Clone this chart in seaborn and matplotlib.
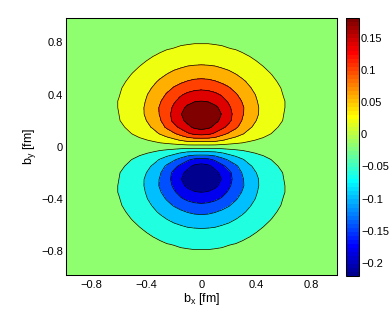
import numpy as np
import matplotlib
matplotlib.use("Agg")
import matplotlib.pyplot as plt
from matplotlib.colors import ListedColormap, Normalize
from matplotlib.cm import ScalarMappable
from matplotlib.ticker import FuncFormatter
import seaborn as sns

# sample positions of the upper-right quadrant (fm)
bx_q = np.round(np.linspace(0.0, 1.0, 21), 2)
by_q = np.round(np.linspace(0.0, 1.0, 21), 2)

# density, rows follow by_q, columns follow bx_q
# (picture is mirror symmetric in b_x and flips sign with b_y)
rho_q = np.array([
    [0.000, 0.000, 0.000, 0.000, 0.000, 0.000, 0.000, 0.000, 0.000, 0.000, 0.000, 0.000, 0.000, 0.000, 0.000, 0.000, 0.000, 0.000, 0.000, 0.000, 0.000],
    [0.077, 0.078, 0.075, 0.063, 0.051, 0.042, 0.034, 0.025, 0.019, 0.015, 0.011, 0.008, 0.006, 0.004, 0.003, 0.002, 0.001, 0.001, 0.000, 0.000, 0.000],
    [0.155, 0.150, 0.134, 0.114, 0.095, 0.079, 0.063, 0.048, 0.037, 0.028, 0.021, 0.015, 0.011, 0.008, 0.005, 0.004, 0.002, 0.001, 0.001, 0.000, 0.000],
    [0.194, 0.188, 0.170, 0.150, 0.128, 0.107, 0.084, 0.065, 0.051, 0.038, 0.028, 0.021, 0.015, 0.011, 0.008, 0.005, 0.003, 0.002, 0.001, 0.001, 0.000],
    [0.209, 0.204, 0.190, 0.171, 0.149, 0.123, 0.097, 0.077, 0.060, 0.046, 0.034, 0.025, 0.019, 0.013, 0.009, 0.006, 0.004, 0.002, 0.001, 0.001, 0.000],
    [0.214, 0.210, 0.198, 0.178, 0.153, 0.126, 0.103, 0.083, 0.065, 0.050, 0.038, 0.028, 0.020, 0.015, 0.010, 0.006, 0.004, 0.002, 0.001, 0.001, 0.000],
    [0.205, 0.201, 0.188, 0.169, 0.146, 0.124, 0.104, 0.083, 0.065, 0.051, 0.039, 0.029, 0.021, 0.015, 0.010, 0.006, 0.004, 0.002, 0.001, 0.001, 0.000],
    [0.180, 0.177, 0.167, 0.152, 0.135, 0.117, 0.097, 0.079, 0.062, 0.049, 0.038, 0.028, 0.021, 0.015, 0.009, 0.006, 0.004, 0.002, 0.001, 0.001, 0.000],
    [0.157, 0.154, 0.147, 0.136, 0.120, 0.104, 0.087, 0.071, 0.058, 0.045, 0.035, 0.026, 0.019, 0.013, 0.009, 0.005, 0.003, 0.002, 0.001, 0.001, 0.000],
    [0.133, 0.131, 0.125, 0.115, 0.103, 0.089, 0.076, 0.063, 0.051, 0.041, 0.031, 0.024, 0.017, 0.011, 0.007, 0.005, 0.003, 0.002, 0.001, 0.001, 0.000],
    [0.109, 0.107, 0.102, 0.094, 0.086, 0.076, 0.065, 0.054, 0.044, 0.035, 0.027, 0.020, 0.014, 0.009, 0.006, 0.004, 0.002, 0.001, 0.001, 0.001, 0.000],
    [0.088, 0.087, 0.083, 0.077, 0.070, 0.062, 0.053, 0.044, 0.036, 0.029, 0.022, 0.015, 0.011, 0.007, 0.005, 0.003, 0.002, 0.001, 0.001, 0.001, 0.000],
    [0.069, 0.068, 0.066, 0.061, 0.056, 0.049, 0.042, 0.036, 0.029, 0.022, 0.016, 0.012, 0.008, 0.006, 0.004, 0.002, 0.001, 0.001, 0.001, 0.001, 0.000],
    [0.053, 0.052, 0.050, 0.047, 0.043, 0.038, 0.033, 0.027, 0.021, 0.016, 0.012, 0.008, 0.006, 0.004, 0.003, 0.002, 0.001, 0.001, 0.001, 0.000, 0.000],
    [0.040, 0.040, 0.038, 0.035, 0.032, 0.028, 0.023, 0.019, 0.015, 0.011, 0.008, 0.006, 0.004, 0.003, 0.002, 0.001, 0.001, 0.001, 0.001, 0.000, 0.000],
    [0.028, 0.028, 0.026, 0.024, 0.021, 0.019, 0.016, 0.013, 0.010, 0.008, 0.006, 0.004, 0.003, 0.002, 0.001, 0.001, 0.001, 0.001, 0.001, 0.000, 0.000],
    [0.018, 0.018, 0.017, 0.016, 0.014, 0.012, 0.010, 0.008, 0.007, 0.005, 0.004, 0.003, 0.002, 0.001, 0.001, 0.001, 0.001, 0.001, 0.000, 0.000, 0.000],
    [0.011, 0.011, 0.011, 0.010, 0.009, 0.008, 0.007, 0.005, 0.004, 0.003, 0.002, 0.002, 0.001, 0.001, 0.001, 0.001, 0.001, 0.000, 0.000, 0.000, 0.000],
    [0.007, 0.007, 0.007, 0.006, 0.006, 0.005, 0.004, 0.003, 0.002, 0.002, 0.002, 0.001, 0.001, 0.001, 0.001, 0.001, 0.000, 0.000, 0.000, 0.000, 0.000],
    [0.004, 0.004, 0.004, 0.004, 0.003, 0.003, 0.002, 0.002, 0.002, 0.001, 0.001, 0.001, 0.001, 0.001, 0.001, 0.000, 0.000, 0.000, 0.000, 0.000, 0.000],
    [0.002, 0.002, 0.002, 0.002, 0.002, 0.002, 0.002, 0.001, 0.001, 0.001, 0.001, 0.001, 0.001, 0.000, 0.000, 0.000, 0.000, 0.000, 0.000, 0.000, 0.000],
])

# contour levels, colour limits and ticks
levels = [-0.18, -0.14, -0.10, -0.06, -0.02, 0.02, 0.06, 0.10, 0.14, 0.18]
clim = (-0.22, 0.18)
axis_ticks = [-0.8, -0.4, 0, 0.4, 0.8]
cbar_ticks = [-0.2, -0.15, -0.1, -0.05, 0, 0.05, 0.1, 0.15]
lim = 0.985

# full plane from the quadrant
bx = np.concatenate([-bx_q[:0:-1], bx_q])
by = np.concatenate([-by_q[:0:-1], by_q])
upper = np.hstack([rho_q[:, :0:-1], rho_q])
rho = np.vstack([-upper[:0:-1], upper])

# MATLAB style jet with 64 entries
k = np.arange(1, 65)
red = np.clip(np.minimum((k - 24) / 16, (72 - k) / 16), 0, 1)
green = np.clip(np.minimum((k - 8) / 16, (56 - k) / 16), 0, 1)
blue = np.clip(np.minimum((k + 8) / 16, (40 - k) / 16), 0, 1)
jet64 = ListedColormap(np.stack([red, green, blue], axis=1))
norm = Normalize(*clim)

# each band is painted with the colour of its lower level
bounds = [-1.0] + levels + [1.0]
band_vals = [clim[0]] + levels
band_colors = [jet64(norm(v + 1e-9)) for v in band_vals]

sns.set_theme(style="ticks", rc={
    "axes.edgecolor": "black", "axes.labelcolor": "black", "text.color": "black",
    "xtick.color": "black", "ytick.color": "black",
    "xtick.direction": "in", "ytick.direction": "in",
})
plt.rcParams["font.family"] = ["Liberation Sans", "DejaVu Sans"]

fig = plt.figure(figsize=(3.92, 3.16), dpi=100)
ax = fig.add_axes([66 / 392, 41 / 316, 270.7 / 392, 256.7 / 316])
cax = fig.add_axes([346 / 392, 40 / 316, 13.3 / 392, 257.7 / 316])

ax.contourf(bx, by, rho, levels=bounds, colors=band_colors)
ax.contour(bx, by, rho, levels=levels, colors="black", linewidths=0.5,
           linestyles="solid")

fmt = FuncFormatter(lambda v, p: f"{v:g}".replace("-", "\u2212"))

ax.set_xlim(-lim, lim)
ax.set_ylim(-lim, lim)
ax.set_xticks(axis_ticks)
ax.set_yticks(axis_ticks)
ax.xaxis.set_major_formatter(fmt)
ax.yaxis.set_major_formatter(fmt)
ax.tick_params(direction="in", top=True, right=True, length=2.5, width=0.5,
               labelsize=8)
ax.tick_params(axis="x", pad=3.5)
ax.tick_params(axis="y", pad=2.2)
for s in ax.spines.values():
    s.set_linewidth(0.75)

ax.set_xlabel(r"b$_\mathregular{x}$ [fm]", fontsize=9)
ax.set_ylabel(r"b$_\mathregular{y}$ [fm]", fontsize=9)
ax.xaxis.set_label_coords(0.5, -0.062)
ax.yaxis.set_label_coords(-0.105, 0.5)

cb = fig.colorbar(ScalarMappable(norm=norm, cmap=jet64), cax=cax)
cb.set_ticks(cbar_ticks)
cb.ax.yaxis.set_major_formatter(fmt)
cb.ax.tick_params(direction="in", left=True, right=True, length=2.5, width=0.5,
                  labelsize=8, pad=1.2)
cb.outline.set_linewidth(0.75)

fig.savefig("out.png", dpi=100)
